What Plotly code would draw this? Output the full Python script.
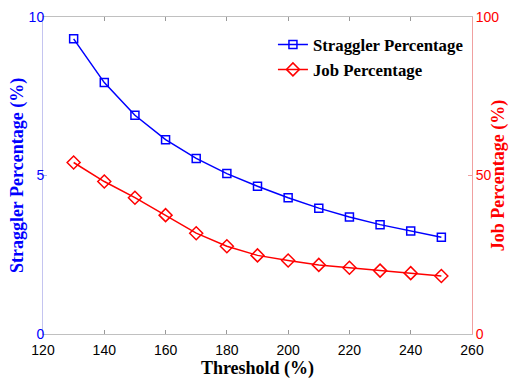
import plotly.graph_objects as go

threshold = [130, 140, 150, 160, 170, 180, 190, 200, 210, 220, 230, 240, 250]
straggler_pct = [9.31, 7.93, 6.90, 6.13, 5.54, 5.06, 4.66, 4.30, 3.97, 3.69, 3.45, 3.25, 3.05]
job_pct = [54.1, 48.1, 43.0, 37.5, 31.8, 27.7, 24.8, 23.2, 21.8, 20.9, 20.0, 19.2, 18.3]

x_ticks = [120, 140, 160, 180, 200, 220, 240, 260]
left_ticks = [0, 5, 10]
right_ticks = [0, 50, 100]

BLUE = "#0000FF"
RED = "#FF0000"

fig = go.Figure()
fig.add_trace(go.Scatter(
    x=threshold, y=straggler_pct, name="Straggler Percentage",
    mode="lines+markers",
    line=dict(color=BLUE, width=1.5),
    marker=dict(symbol="square-open", size=8, color=BLUE, line=dict(width=1.5)),
    yaxis="y"))
fig.add_trace(go.Scatter(
    x=threshold, y=job_pct, name="Job Percentage",
    mode="lines+markers",
    line=dict(color=RED, width=1.5),
    marker=dict(symbol="diamond-open", size=10, color=RED, line=dict(width=1.5)),
    yaxis="y2"))

tick_font = dict(family="Liberation Sans, Arial, sans-serif", size=14)
title_font_family = "Liberation Serif, Times New Roman, serif"

fig.update_layout(
    width=509, height=379,
    margin=dict(l=43, r=37, t=17, b=45, autoexpand=False),
    paper_bgcolor="white", plot_bgcolor="white",
    showlegend=True,
    legend=dict(x=0.536, y=0.968, xanchor="left", yanchor="top",
                bgcolor="rgba(0,0,0,0)",
                font=dict(family=title_font_family, size=16.8, color="black", weight="bold"),
                itemwidth=30, tracegroupgap=0),
    xaxis=dict(
        range=[120, 260], tickvals=x_ticks,
        ticks="inside", ticklen=4, tickcolor="#999999",
        showline=True, linecolor="#c0c0c0", linewidth=1, mirror="ticks",
        showgrid=False, zeroline=False, automargin=False,
        ticklabelstandoff=3,
        tickfont=dict(color="black", **tick_font),
        title=dict(text="Threshold (%)", standoff=16,
                   font=dict(family=title_font_family, size=18, color="black", weight="bold")),
    ),
    yaxis=dict(
        range=[0, 10], tickvals=left_ticks,
        ticks="inside", ticklen=4, tickcolor="#b0b0f0",
        showline=True, linecolor="#c4c4f0", linewidth=1,
        showgrid=False, zeroline=False, automargin=False,
        ticklabelstandoff=-5,
        tickfont=dict(color=BLUE, **tick_font),
        title=dict(text="Straggler Percentage (%)", standoff=0,
                   font=dict(family=title_font_family, size=18, color=BLUE, weight="bold")),
    ),
    yaxis2=dict(
        range=[0, 100], tickvals=right_ticks,
        overlaying="y", side="right",
        ticks="inside", ticklen=4, tickcolor="#f0a0a0",
        showline=True, linecolor="#f0a0a0", linewidth=1,
        showgrid=False, zeroline=False, automargin=False,
        tickfont=dict(color=RED, **tick_font),
        title=dict(text="Job Percentage (%)", standoff=2,
                   font=dict(family=title_font_family, size=18, color=RED, weight="bold")),
    ),
)

fig.write_html("out.html")
